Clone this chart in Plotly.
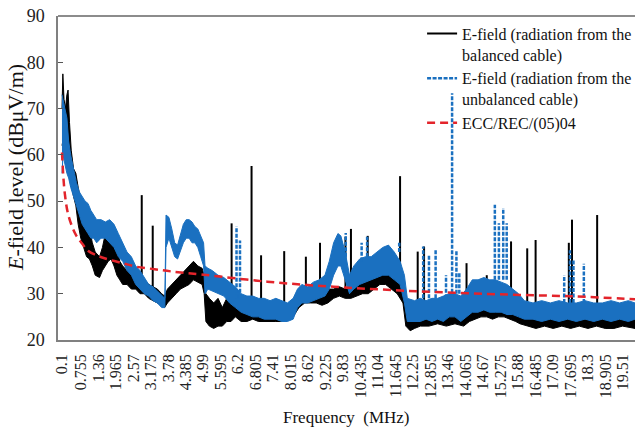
import plotly.graph_objects as go

# ---------------- data ----------------
tick_labels = ["0.1", "0.755", "1.36", "1.965", "2.57", "3.175", "3.78", "4.385", "4.99",
               "5.595", "6.2", "6.805", "7.41", "8.015", "8.62", "9.225", "9.83", "10.435",
               "11.04", "11.645", "12.25", "12.855", "13.46", "14.065", "14.67", "15.275",
               "15.88", "16.485", "17.09", "17.695", "18.3", "18.905", "19.51"]
tick_values = [float(s) for s in tick_labels]

# balanced cable: band (low / high envelope of the measured trace), MHz / dBuV/m
bal_f = [0.10, 0.13, 0.17, 0.22, 0.27, 0.31, 0.36, 0.42, 0.50, 0.58, 0.66, 0.75, 0.85, 0.95,
         1.05, 1.15, 1.25, 1.40, 1.50, 1.60, 1.70, 1.80, 1.90, 2.00, 2.10, 2.20, 2.35, 2.50,
         2.65, 2.80, 2.95, 3.10, 3.25, 3.40, 3.55, 3.65, 3.75, 3.90, 4.05, 4.20, 4.35, 4.50,
         4.65, 4.80, 4.95, 5.02, 5.08, 5.20, 5.35, 5.50, 5.65, 5.80, 5.95, 6.10, 6.30, 6.50,
         6.70, 6.90, 7.10, 7.30, 7.50, 7.70, 7.90, 8.10, 8.30, 8.50, 8.70, 8.90, 9.10, 9.30,
         9.50, 9.70, 9.90, 10.10, 10.30, 10.50, 10.70, 10.90, 11.10, 11.30, 11.50, 11.70,
         11.90, 12.00, 12.15, 12.30, 12.50, 12.80, 13.10, 13.40, 13.70, 14.00, 14.20, 14.40,
         14.60, 14.80, 15.00, 15.20, 15.40, 15.60, 15.80, 15.95, 16.20, 16.50, 16.80, 17.10,
         17.40, 17.70, 18.00, 18.30, 18.60, 18.90, 19.20, 19.50, 19.93]
bal_lo = [62, 63, 60, 61, 59, 58, 55, 53, 51, 49, 45, 42, 40, 38,
          37.5, 36, 34, 33.5, 35, 36, 37, 37.5, 36, 34, 33, 32, 32, 31,
          31, 30, 30, 29, 28.5, 28, 27.5, 27, 28, 29, 30, 31, 31.5, 32,
          33, 32.5, 32, 30, 24, 23, 22.5, 23, 23, 24, 24, 25, 24, 24,
          24.5, 24, 24, 24, 24, 24, 24.5, 25, 27, 28, 28, 28, 27.5, 28,
          29, 29.5, 29, 29, 29.5, 30, 30, 31, 32, 32, 31, 30,
          28, 23, 22, 22.5, 23, 23, 23.5, 23, 23.5, 23, 24, 24.5,
          25, 25, 24.5, 25, 25, 24.5, 24, 23.5, 23, 22.5, 23, 22.5,
          23, 22.5, 23, 22.5, 23, 22.5, 22.5, 23, 22.5]
bal_hi = [70, 77.5, 72, 70, 73, 74, 67, 61, 57, 56, 53, 50, 47, 46,
          44, 41, 39, 38, 40, 43, 45, 45, 43, 40, 37, 36, 35, 35,
          34, 33, 33, 32, 31.5, 31, 30, 29.5, 31, 32, 33, 34, 35, 36,
          37, 36, 35.5, 34, 30, 29, 28, 29, 27, 29, 28.5, 29, 28, 27,
          28, 28, 27.5, 27, 27, 28, 27, 28, 31, 31, 30.5, 31, 30.5, 31,
          31, 31.5, 31, 31, 32, 33, 33.5, 34.5, 36, 36.5, 35, 34,
          33, 28, 27, 27, 26, 26, 26, 26.5, 26, 27, 31, 32,
          32.5, 32, 32, 31.5, 32, 31, 30, 27, 26.5, 26, 26.5, 26,
          26.5, 26, 26, 26.5, 26, 27, 27, 26.5, 26.5]
# balanced cable: narrow spikes (frequency, foot, peak)
bal_spike_f = [2.86, 3.24, 5.97, 6.66, 6.99, 7.79, 8.54, 9.03, 9.91, 10.10, 10.68, 11.80,
               12.41, 12.63, 14.10, 14.80, 15.64, 16.20, 16.49, 17.64, 17.75, 18.62]
bal_spike_base = [33, 31, 28, 28, 28, 28, 30, 30, 31, 31, 32, 34,
                  27, 27, 28, 30, 30, 27, 27, 27, 27, 27]
bal_spike_peak = [51.3, 44.7, 45.2, 57.6, 38.3, 39.2, 38.0, 41.0, 42.3, 44.0, 42.5, 55.4,
                  39.1, 40.2, 36.6, 34.0, 41.3, 39.8, 41.6, 41.0, 46.0, 47.0]

# unbalanced cable: band
unb_f = [0.10, 0.14, 0.20, 0.27, 0.33, 0.40, 0.50, 0.60, 0.70, 0.80, 0.90, 1.00, 1.10, 1.20,
         1.30, 1.45, 1.60, 1.75, 1.90, 2.05, 2.20, 2.35, 2.50, 2.65, 2.80, 2.95, 3.10, 3.25,
         3.40, 3.55, 3.66, 3.70, 3.80, 3.90, 4.00, 4.10, 4.20, 4.30, 4.40, 4.50, 4.60, 4.70,
         4.80, 4.90, 5.00, 5.05, 5.15, 5.30, 5.50, 5.70, 5.90, 6.10, 6.30, 6.50, 6.70, 6.90,
         7.10, 7.30, 7.50, 7.70, 7.90, 8.10, 8.25, 8.40, 8.60, 8.80, 9.00, 9.20, 9.35, 9.50,
         9.65, 9.75, 9.90, 10.05, 10.20, 10.40, 10.60, 10.80, 11.00, 11.20, 11.40, 11.60,
         11.80, 11.95, 12.05, 12.30, 12.50, 12.70, 12.90, 13.10, 13.30, 13.50, 13.70, 13.90,
         14.10, 14.30, 14.50, 14.70, 14.90, 15.10, 15.30, 15.50, 15.70, 15.90, 16.10, 16.40,
         16.70, 17.00, 17.30, 17.60, 17.90, 18.20, 18.50, 18.80, 19.10, 19.40, 19.70, 19.93]
unb_lo = [56, 60, 58, 56, 55, 53, 51, 49, 47, 45, 44, 43, 42, 42,
          41, 42, 42, 41, 40, 38, 37, 35, 34, 32, 31, 30, 29.5, 28.5,
          28, 27, 27, 40, 42, 40, 38, 37.5, 39, 41, 42, 42, 41, 41,
          40, 38, 36, 30, 31, 30.5, 30, 29.5, 28, 27, 26, 25.5, 25, 25,
          24.5, 24.5, 24.5, 24, 24, 24.5, 27, 28, 28, 28.5, 29, 29.5, 31, 34,
          36, 36, 33, 30, 31, 32, 32.5, 33, 33.5, 34, 34, 33,
          32, 28, 24, 24, 24, 24.5, 24, 24.5, 24, 25, 25, 24,
          25, 26, 26, 26.5, 26, 26, 26, 25.5, 25.5, 25, 24.5, 24.5,
          24, 24.5, 24, 24.5, 24, 24.5, 24, 24.5, 24, 24.5, 24, 24.5]
unb_hi = [73, 72, 70, 68, 63, 60, 57, 54, 52, 51, 50, 49.5, 48, 47,
          46, 46, 45.5, 46, 45, 43, 41, 39, 38, 36, 35, 33.5, 32, 31.5,
          30.5, 29.5, 29, 47, 46.5, 44, 41, 40.5, 43, 45, 46, 46, 45.5, 44.5,
          44, 42.5, 41, 36, 35.5, 35, 34, 33.5, 32.5, 31.5, 30, 29.5, 29.5, 29,
          29, 28.5, 29, 28.5, 28, 29, 31, 32, 31.5, 32.5, 33, 34, 37, 41,
          43, 42.5, 39, 34, 36, 37.5, 38, 38, 39, 40, 40.5, 39,
          37, 34, 29, 28.5, 29, 28.5, 29, 29, 29.5, 30, 30, 29.5,
          31, 33, 33, 33.5, 33, 33, 32.5, 32, 31, 30, 28.5, 28,
          28.5, 28, 28.5, 28, 28, 28.5, 28, 28, 28.5, 28, 28.5, 28]
unb_spike_f = [6.14, 6.26, 9.92, 10.47, 10.66, 11.77, 12.60, 12.80, 13.03, 13.39, 13.60,
               13.75, 13.85, 15.08, 15.22, 15.37, 15.49, 17.48, 17.68, 17.80, 18.16]
unb_spike_base = [29, 29, 38, 37, 38, 39, 29, 29, 29, 29, 29,
                  30, 30, 33, 33, 33, 33, 28, 28, 28, 28]
unb_spike_peak = [44.5, 41.5, 43.1, 41.0, 42.3, 41.0, 40.2, 38.4, 39.4, 34.0, 73.3,
                  39.4, 34.4, 49.2, 45.2, 48.5, 45.2, 34.0, 39.4, 37.3, 36.5]

# ECC/REC/(05)04 limit
ecc_f = [0.10, 0.15, 0.20, 0.30, 0.45, 0.60, 0.80, 1.00, 1.30, 1.60, 2.20, 2.70, 3.30, 3.90,
         5.00, 7.20, 9.50, 12.50, 15.60, 17.90, 19.93]
ecc_db = [60.5, 55.0, 51.5, 47.5, 44.5, 42.5, 40.8, 39.3, 38.3, 37.6, 36.6, 35.8, 35.3, 34.8,
          34.1, 32.6, 31.5, 30.5, 29.8, 29.4, 28.8]

NAME_BAL = "E-field (radiation from the<br>balanced cable)"
NAME_UNB = "E-field (radiation from the<br>unbalanced cable)"
NAME_ECC = "ECC/REC/(05)04"

BLACK = "#000000"
BLUE = "#1a70c0"
RED = "#e3242b"
FONT = "Liberation Serif"


def band(f, lo, hi):
    return list(f) + list(f)[::-1], list(hi) + list(lo)[::-1]


def spikes(f, base, peak):
    xs, ys = [], []
    for a, b, c in zip(f, base, peak):
        xs += [a, a, None]
        ys += [b, c, None]
    return xs, ys


fig = go.Figure()

bx, by = band(bal_f, bal_lo, bal_hi)
fig.add_trace(go.Scatter(x=bx, y=by, mode="lines", fill="toself", fillcolor=BLACK,
                         line=dict(color=BLACK, width=1), showlegend=False, hoverinfo="skip"))
sx, sy = spikes(bal_spike_f, bal_spike_base, bal_spike_peak)
fig.add_trace(go.Scatter(x=sx, y=sy, mode="lines", name=NAME_BAL,
                         line=dict(color=BLACK, width=2)))

ux, uy = band(unb_f, unb_lo, unb_hi)
fig.add_trace(go.Scatter(x=ux, y=uy, mode="lines", fill="toself", fillcolor=BLUE,
                         line=dict(color=BLUE, width=1), showlegend=False, hoverinfo="skip"))
sx, sy = spikes(unb_spike_f, unb_spike_base, unb_spike_peak)
fig.add_trace(go.Scatter(x=sx, y=sy, mode="lines", name=NAME_UNB,
                         line=dict(color=BLUE, width=2.5, dash="4px,1.5px")))

fig.add_trace(go.Scatter(x=ecc_f, y=ecc_db, mode="lines", name=NAME_ECC,
                         line=dict(color=RED, width=2.5, dash="8px,5px", shape="spline")))

XR = [-0.038, 19.93]
fig.update_layout(
    width=635, height=428,
    margin=dict(l=58, r=0, t=16, b=88, autoexpand=False),
    paper_bgcolor="white", plot_bgcolor="white",
    font=dict(family=FONT, color="#222222"),
    legend=dict(x=0.631, y=0.998, xanchor="left", yanchor="top",
                bgcolor="rgba(0,0,0,0)", font=dict(family=FONT, size=16, color="#111111"),
                itemwidth=30, valign="top", tracegroupgap=7),
    xaxis=dict(range=XR, tickmode="array", tickvals=tick_values, ticktext=tick_labels,
               tickangle=-90, ticks="", showline=True, linecolor="#808080", linewidth=1.5,
               showgrid=False, zeroline=False, tickfont=dict(size=16, color="#222222"),
               ticklabelstandoff=6, automargin=False),
    xaxis2=dict(range=XR, overlaying="x", anchor="y", side="bottom", tickmode="linear",
                tick0=-0.038, dtick=0.5045, ticks="inside", ticklen=6, tickwidth=1,
                tickcolor="#555555", showticklabels=False, showline=False, showgrid=False,
                zeroline=False, automargin=False),
    yaxis=dict(range=[20, 90], dtick=10, ticks="inside", ticklen=5, tickcolor="#555555",
               showline=True, linecolor="#808080", linewidth=1.5, showgrid=False,
               zeroline=False, tickfont=dict(size=18, color="#222222"), ticklabelstandoff=8,
               automargin=False),
    shapes=[dict(type="line", xref="paper", yref="paper", x0=0, x1=1, y0=1, y1=1,
                 line=dict(color="#8c8c8c", width=2))],
    annotations=[
        dict(text="<i>E</i>-field level (dBμV/m)", xref="paper", yref="paper",
             x=(15 - 58) / 577, y=(340 - 168) / 324, textangle=-90, showarrow=False,
             font=dict(family=FONT, size=22, color="#111111"), xanchor="center", yanchor="middle"),
        dict(text="Frequency  (MHz)", xref="paper", yref="paper",
             x=(346 - 58) / 577, y=-(417 - 340) / 324, showarrow=False,
             font=dict(family=FONT, size=17, color="#111111"), xanchor="center", yanchor="middle"),
    ],
)

fig.write_html("out.html", config={"displayModeBar": False},
               post_script="document.body.style.margin='0';document.body.style.overflow='hidden';")
